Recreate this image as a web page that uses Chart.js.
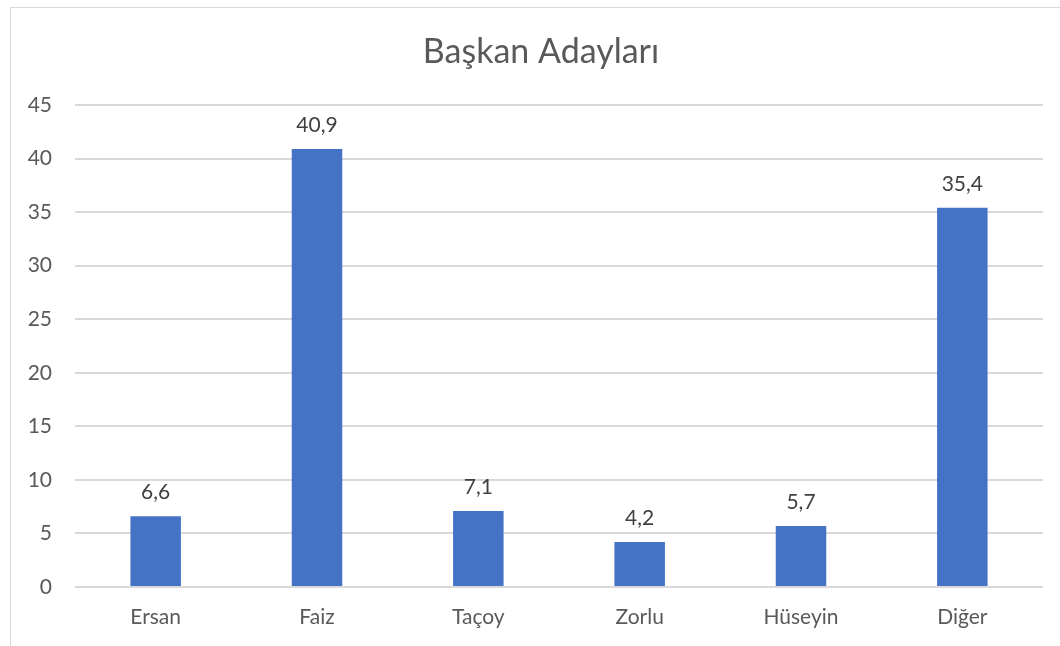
<!DOCTYPE html>
<html>
<head>
<meta charset="utf-8">
<script src="https://cdn.jsdelivr.net/npm/chart.js@4.4.1/dist/chart.umd.min.js"></script>
<style>
  html, body { margin: 0; padding: 0; background: #fff; }
  #wrap { position: relative; width: 1060px; height: 646px; overflow: hidden; }
  #frame {
    position: absolute; left: 10px; top: 7px; width: 1100px; height: 700px;
    border: 1px solid #d9d9d9; box-sizing: border-box;
  }
  canvas { position: absolute; left: 0; top: 0; }
</style>
</head>
<body>
<div id="wrap">
  <div id="frame"></div>
  <canvas id="c" width="1060" height="646"></canvas>
</div>
<script>
// ── veriler ─────────────────────────────────────────────
const candidates = ["Ersan", "Faiz", "Taçoy", "Zorlu", "Hüseyin", "Diğer"];
const shares     = [6.6, 40.9, 7.1, 4.2, 5.7, 35.4];
const yTicks     = [0, 5, 10, 15, 20, 25, 30, 35, 40, 45];
const chartTitle = "Başkan Adayları";

const FONT = "Lato, 'Open Sans', sans-serif";

// başlık: çerçevenin ortasına (çerçeve sağdan taşıyor)
const titleText = {
  id: "titleText",
  afterDraw(chart) {
    const { ctx } = chart;
    ctx.save();
    ctx.fillStyle = "#595959";
    ctx.font = "34px " + FONT;
    ctx.textAlign = "center";
    ctx.textBaseline = "middle";
    ctx.fillText(chartTitle, 541, 52);
    ctx.restore();
  },
};

// etiketler çubukların üstüne
const valueLabels = {
  id: "valueLabels",
  afterDatasetsDraw(chart) {
    const { ctx } = chart;
    const meta = chart.getDatasetMeta(0);
    ctx.save();
    ctx.fillStyle = "#404040";
    ctx.font = "21px " + FONT;
    ctx.textAlign = "center";
    ctx.textBaseline = "middle";
    meta.data.forEach((bar, i) => {
      const txt = shares[i].toLocaleString("tr-TR", { minimumFractionDigits: 1 });
      ctx.fillText(txt, bar.x, bar.y - 24);
    });
    ctx.restore();
  },
};

new Chart(document.getElementById("c"), {
  type: "bar",
  data: {
    labels: candidates,
    datasets: [{
      data: shares,
      backgroundColor: "#4472c4",
      categoryPercentage: 1,
      barPercentage: 0.313,
    }],
  },
  options: {
    responsive: false,
    animation: false,
    layout: { padding: { left: 0, right: 17, top: 105, bottom: 0 } },
    plugins: {
      legend: { display: false },
      tooltip: { enabled: false },
      title: { display: false },
    },
    scales: {
      x: {
        grid: { display: false },
        border: { display: false },
        ticks: { color: "#595959", font: { family: FONT, size: 21 }, padding: 10 },
        afterFit(scale) { scale.height = 59; },
      },
      y: {
        min: 0,
        max: 45,
        afterBuildTicks(scale) { scale.ticks = yTicks.map((v) => ({ value: v })); },
        grid: { color: "#d9d9d9", lineWidth: 2, drawTicks: false },
        border: { display: false },
        ticks: { color: "#595959", font: { family: FONT, size: 21 }, padding: 23 },
        afterFit(scale) { scale.width = 75; },
      },
    },
  },
  plugins: [valueLabels, titleText],
});
</script>
</body>
</html>
